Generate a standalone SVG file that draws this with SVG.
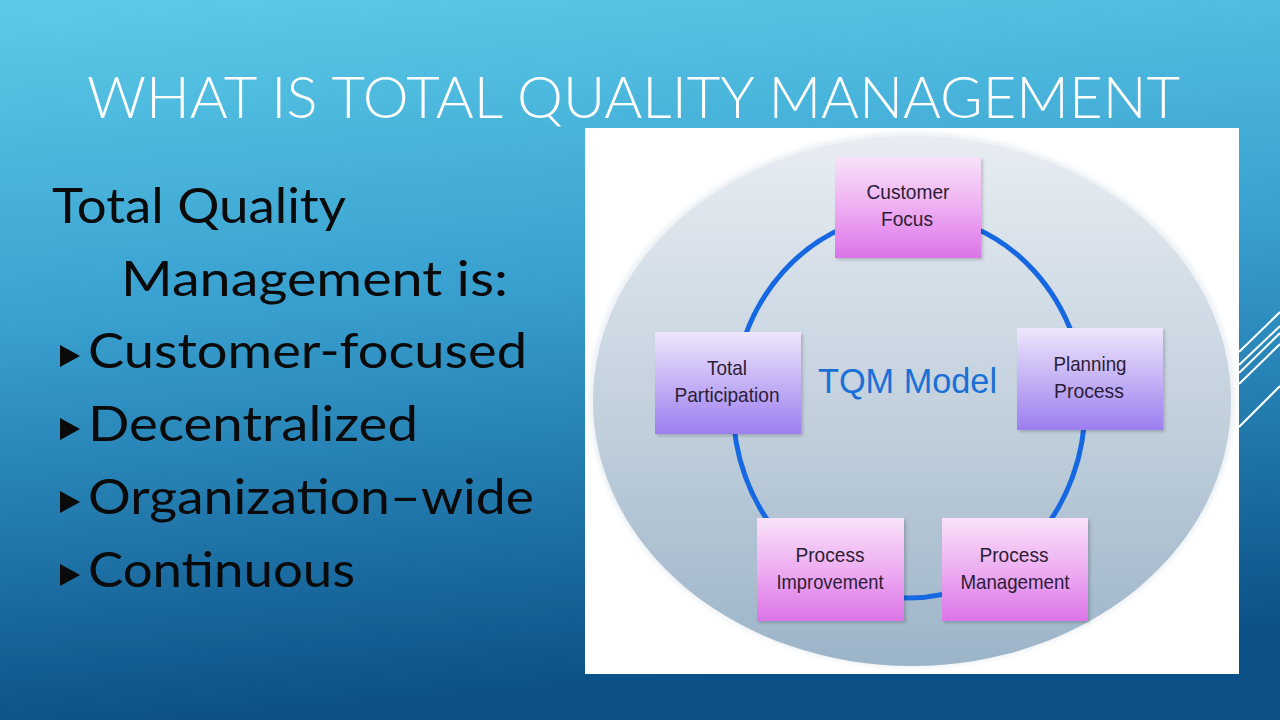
<svg xmlns="http://www.w3.org/2000/svg" width="1280" height="720" viewBox="0 0 1280 720">
<defs>
<linearGradient id="bg" x1="0" y1="0" x2="0.15" y2="1">
<stop offset="0" stop-color="#5ccbe8"/>
<stop offset="0.45" stop-color="#389fcf"/>
<stop offset="1" stop-color="#0b5188"/>
</linearGradient>
<linearGradient id="ell" x1="0" y1="0" x2="0" y2="1">
<stop offset="0" stop-color="#e8edf3"/>
<stop offset="0.5" stop-color="#c4d2de"/>
<stop offset="1" stop-color="#9cb4c8"/>
</linearGradient>
<linearGradient id="pink" x1="0" y1="0" x2="0" y2="1">
<stop offset="0" stop-color="#f8e2f8"/>
<stop offset="0.5" stop-color="#eeaef2"/>
<stop offset="1" stop-color="#db74e8"/>
</linearGradient>
<linearGradient id="purple" x1="0" y1="0" x2="0" y2="1">
<stop offset="0" stop-color="#eee6fb"/>
<stop offset="0.5" stop-color="#c5b2f5"/>
<stop offset="1" stop-color="#9c7eef"/>
</linearGradient>
<filter id="sh" x="-10%" y="-10%" width="130%" height="130%">
<feDropShadow dx="2" dy="2" stdDeviation="1.5" flood-color="#000" flood-opacity="0.18"/>
</filter>
<filter id="glow" x="-5%" y="-5%" width="110%" height="110%">
<feGaussianBlur stdDeviation="2"/>
</filter>
</defs>
<style>
.title{font-family:Lato,"Open Sans",sans-serif;font-weight:300;font-size:58px;fill:#ffffff}
.body{font-family:Lato,"Open Sans",sans-serif;font-weight:400;font-size:48px;fill:#0a0a0a}
.lbl{font-family:"Liberation Sans",Arial,sans-serif;font-size:21px;fill:#2b1d36;text-anchor:middle}
.model{font-family:"Liberation Sans",Arial,sans-serif;font-size:35px;fill:#1a70d6}
.ring{fill:none;stroke:#1668e2;stroke-width:5}
.deco{stroke:#ffffff;stroke-width:2;fill:none}
.bullet{fill:#0a0a0a}
</style>
<rect x="0" y="0" width="1280" height="720" fill="url(#bg)"/>
<g id="decoration">
<line class="deco" x1="1239" y1="352" x2="1280" y2="312"/>
<line class="deco" x1="1239" y1="365" x2="1280" y2="326"/>
<line class="deco" x1="1239" y1="373" x2="1280" y2="333"/>
<line class="deco" x1="1239" y1="384" x2="1280" y2="344"/>
<line class="deco" x1="1239" y1="427" x2="1280" y2="386"/>
</g>
<text class="title" x="87" y="118" textLength="1093" lengthAdjust="spacingAndGlyphs">WHAT IS TOTAL QUALITY MANAGEMENT</text>
<g id="left-text">
<text class="body" x="52" y="223" textLength="294" lengthAdjust="spacingAndGlyphs">Total Quality</text>
<text class="body" x="121" y="296" textLength="387" lengthAdjust="spacingAndGlyphs">Management is:</text>
<polygon class="bullet" points="60,345 60,367 80,356"/>
<text class="body" x="88" y="368" textLength="439" lengthAdjust="spacingAndGlyphs">Customer-focused</text>
<polygon class="bullet" points="60,418 60,440 80,429"/>
<text class="body" x="88" y="441" textLength="330" lengthAdjust="spacingAndGlyphs">Decentralized</text>
<polygon class="bullet" points="60,491 60,513 80,502"/>
<text class="body" x="88" y="514" textLength="446" lengthAdjust="spacingAndGlyphs">Organization–wide</text>
<polygon class="bullet" points="60,564 60,586 80,575"/>
<text class="body" x="88" y="587" textLength="267" lengthAdjust="spacingAndGlyphs">Continuous</text>
</g>
<g id="panel">
<rect x="585" y="128" width="654" height="546" fill="#ffffff"/>
<ellipse cx="912" cy="400" rx="323" ry="268" fill="#eef2f6" filter="url(#glow)"/>
<ellipse cx="912" cy="401" rx="319" ry="265" fill="url(#ell)"/>
<text class="model" x="818" y="393" textLength="179" lengthAdjust="spacingAndGlyphs">TQM Model</text>
</g>
<g id="connectors">
<ellipse class="ring" cx="909" cy="406" rx="176" ry="192"/>
</g>
<g id="customer-focus">
<rect x="835" y="157" width="146" height="101" fill="url(#pink)" filter="url(#sh)"/>
<text class="lbl" x="908" y="199" textLength="83" lengthAdjust="spacingAndGlyphs">Customer</text>
<text class="lbl" x="907" y="226" textLength="52" lengthAdjust="spacingAndGlyphs">Focus</text>
</g>
<g id="total-participation">
<rect x="655" y="332" width="146" height="102" fill="url(#purple)" filter="url(#sh)"/>
<text class="lbl" x="727" y="375" textLength="40" lengthAdjust="spacingAndGlyphs">Total</text>
<text class="lbl" x="727" y="402" textLength="105" lengthAdjust="spacingAndGlyphs">Participation</text>
</g>
<g id="planning-process">
<rect x="1017" y="328" width="146" height="102" fill="url(#purple)" filter="url(#sh)"/>
<text class="lbl" x="1090" y="371" textLength="73" lengthAdjust="spacingAndGlyphs">Planning</text>
<text class="lbl" x="1089" y="398" textLength="70" lengthAdjust="spacingAndGlyphs">Process</text>
</g>
<g id="process-improvement">
<rect x="757" y="518" width="147" height="103" fill="url(#pink)" filter="url(#sh)"/>
<text class="lbl" x="830" y="562" textLength="69" lengthAdjust="spacingAndGlyphs">Process</text>
<text class="lbl" x="830" y="589" textLength="107" lengthAdjust="spacingAndGlyphs">Improvement</text>
</g>
<g id="process-management">
<rect x="942" y="518" width="146" height="103" fill="url(#pink)" filter="url(#sh)"/>
<text class="lbl" x="1014" y="562" textLength="69" lengthAdjust="spacingAndGlyphs">Process</text>
<text class="lbl" x="1015" y="589" textLength="109" lengthAdjust="spacingAndGlyphs">Management</text>
</g>
</svg>
